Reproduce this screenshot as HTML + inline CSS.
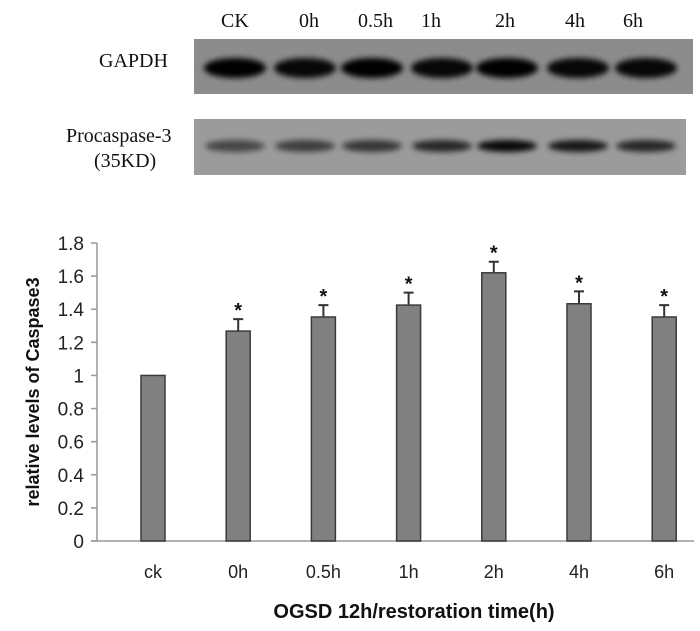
<!DOCTYPE html>
<html><head><meta charset="utf-8"><style>
body{margin:0;background:#fff;width:700px;height:631px;overflow:hidden}
svg{display:block}
</style></head><body>
<svg width="700" height="631">
<defs>
<filter id="blur" x="-30%" y="-80%" width="160%" height="260%"><feGaussianBlur stdDeviation="3"/></filter>
</defs>
<g>
  <rect x="194" y="39" width="499" height="55" fill="#8c8c8c"/>
  <rect x="194" y="119" width="492" height="56" fill="#9b9b9b"/>
  <g id="gapdh" filter="url(#blur)"></g>
  <g id="proc" filter="url(#blur)"></g>
  <g font-family="Liberation Serif, serif" font-size="20" fill="#111">
    <text x="221" y="27">CK</text>
    <text x="299" y="27">0h</text>
    <text x="358" y="27">0.5h</text>
    <text x="421" y="27">1h</text>
    <text x="495" y="27">2h</text>
    <text x="565" y="27">4h</text>
    <text x="623" y="27">6h</text>
    <text x="99" y="67">GAPDH</text>
    <text x="66" y="142">Procaspase-3</text>
    <text x="94" y="167">(35KD)</text>
  </g>
</g>
<g id="chart"></g>
</svg>
<script>
const categories=["ck","0h","0.5h","1h","2h","4h","6h"];
const values=[1.0,1.268,1.353,1.425,1.62,1.433,1.353];
const errors=[0,0.072,0.072,0.075,0.067,0.075,0.072];
const significant=[false,true,true,true,true,true,true];
const yTicks=[0,0.2,0.4,0.6,0.8,1,1.2,1.4,1.6,1.8];
const yTickLabels=["0","0.2","0.4","0.6","0.8","1","1.2","1.4","1.6","1.8"];
const gapdhIntensity=[1,0.95,1,0.95,1,0.95,0.95];
const procIntensity=[0.55,0.6,0.65,0.75,0.95,0.85,0.75];

const NS="http://www.w3.org/2000/svg";
function mk(t,a,p){const e=document.createElementNS(NS,t);for(const k in a)e.setAttribute(k,a[k]);p.appendChild(e);return e;}
const X0=97,X1=694,Y0=541,Y1=243,yMax=1.8;
const y=v=>Y0-(v/yMax)*(Y0-Y1);
const band=85.2;
const xc=i=>153+i*band;
const bw=24;
const chart=document.getElementById('chart');
let ax=mk('line',{x1:X0,y1:Y1,x2:X0,y2:Y0,stroke:'#999','stroke-width':1.5},chart);


let bx=mk('line',{x1:X0-6,y1:Y0,x2:X1,y2:Y0,stroke:'#999','stroke-width':1.5},chart);


yTicks.forEach((t,i)=>{
  const tk=mk('line',{x1:X0-6,y1:y(t),x2:X0,y2:y(t),stroke:'#999','stroke-width':1.5},chart);
  
  
  const tl=mk('text',{x:X0-13,y:y(t)+7,'text-anchor':'end','font-family':'Liberation Sans, sans-serif','font-size':'19',fill:'#222'},chart);
  tl.textContent=yTickLabels[i];
  
  
});
categories.forEach((c,i)=>{
  const cx=xc(i),top=y(values[i]);
  if(errors[i]>0){
    const eb=mk('path',{d:`M${cx},${top} V${y(values[i]+errors[i])} M${cx-5},${y(values[i]+errors[i])} H${cx+5}`,stroke:'#333','stroke-width':2,fill:'none'},chart);
    
    
  }
  const r=mk('rect',{x:cx-bw/2,y:top,width:bw,height:Y0-top,fill:'#808080',stroke:'#3a3a3a','stroke-width':1.5},chart);
  
  
  if(significant[i]){
    const s=mk('text',{x:cx,y:y(values[i]+errors[i])-2,'text-anchor':'middle','font-family':'Liberation Sans, sans-serif','font-size':'20','font-weight':'bold',fill:'#111'},chart);
    s.textContent='*';
    
    
  }
  const l=mk('text',{x:cx,y:578,'text-anchor':'middle','font-family':'Liberation Sans, sans-serif','font-size':'18',fill:'#222'},chart);
  l.textContent=c;
  
  
});
const xt=mk('text',{x:414,y:618,'text-anchor':'middle','font-family':'Liberation Sans, sans-serif','font-size':'20','font-weight':'bold',fill:'#111'},chart);
xt.textContent='OGSD 12h/restoration time(h)';


const yt=mk('text',{x:0,y:0,'text-anchor':'middle','font-family':'Liberation Sans, sans-serif','font-size':'18','font-weight':'bold',fill:'#111',transform:'translate(39,392) rotate(-90)'},chart);
yt.textContent='relative levels of Caspase3';


const laneX=[235,305,372,442,507,578,646];
const g=document.getElementById('gapdh'),p=document.getElementById('proc');
laneX.forEach((lx,i)=>{
  const a=mk('ellipse',{cx:lx,cy:68,rx:31,ry:10,fill:'#000',opacity:gapdhIntensity[i]},g);
  
  
  const b=mk('ellipse',{cx:lx,cy:146,rx:30,ry:6,fill:'#000',opacity:procIntensity[i]},p);
  
  
});
</script>
</body></html>
